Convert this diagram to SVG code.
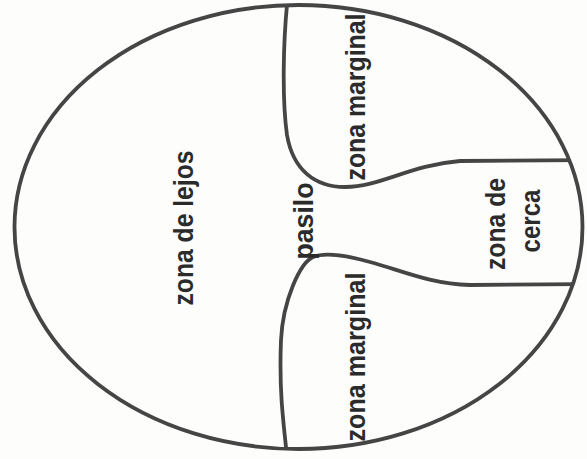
<svg xmlns="http://www.w3.org/2000/svg" width="587" height="459" viewBox="0 0 587 459">
  <defs>
    <clipPath id="lens">
      <ellipse cx="298.5" cy="227" rx="284" ry="222"/>
    </clipPath>
    <style>
      .ln { fill: none; stroke: #454545; stroke-width: 3.8; stroke-linecap: round; stroke-linejoin: round; }
      .lb { font-family: "Liberation Sans", Arial, sans-serif; font-size: 27px; font-weight: bold; fill: #2b2b2b; text-anchor: middle; }
    </style>
  </defs>
  <rect width="587" height="459" fill="#fdfdfc"/>

  <g id="lens-outline">
    <ellipse class="ln" cx="298.5" cy="227" rx="284" ry="222"/>
  </g>

  <g id="dividers" clip-path="url(#lens)">
    <path class="ln" d="M 288,-5 C 283,40 282,100 287,135 C 293,170 315,187 345,187 C 380,187 410,165 460,161 L 600,160"/>
    <path class="ln" d="M 600,284 L 470,285 C 430,284 400,270 370,262 C 345,255 325,252 313,257 C 300,263 283,300 281,340 C 279,390 283,420 288,465"/>
  </g>

  <g id="zona-de-lejos">
    <text class="lb" transform="translate(193,228) rotate(-90)" textLength="155" lengthAdjust="spacingAndGlyphs">zona de lejos</text>
  </g>
  <g id="pasilo">
    <text class="lb" transform="translate(313,221) rotate(-90)" textLength="77" lengthAdjust="spacingAndGlyphs">pasilo</text>
  </g>
  <g id="zona-marginal-superior">
    <text class="lb" transform="translate(365,97) rotate(-90)" textLength="167" lengthAdjust="spacingAndGlyphs">zona marginal</text>
  </g>
  <g id="zona-marginal-inferior">
    <text class="lb" transform="translate(365,357) rotate(-90)" textLength="169" lengthAdjust="spacingAndGlyphs">zona marginal</text>
  </g>
  <g id="zona-de-cerca">
    <text class="lb" transform="translate(505,224) rotate(-90)" textLength="92" lengthAdjust="spacingAndGlyphs">zona de</text>
    <text class="lb" transform="translate(540,221) rotate(-90)" textLength="63" lengthAdjust="spacingAndGlyphs">cerca</text>
  </g>
</svg>
